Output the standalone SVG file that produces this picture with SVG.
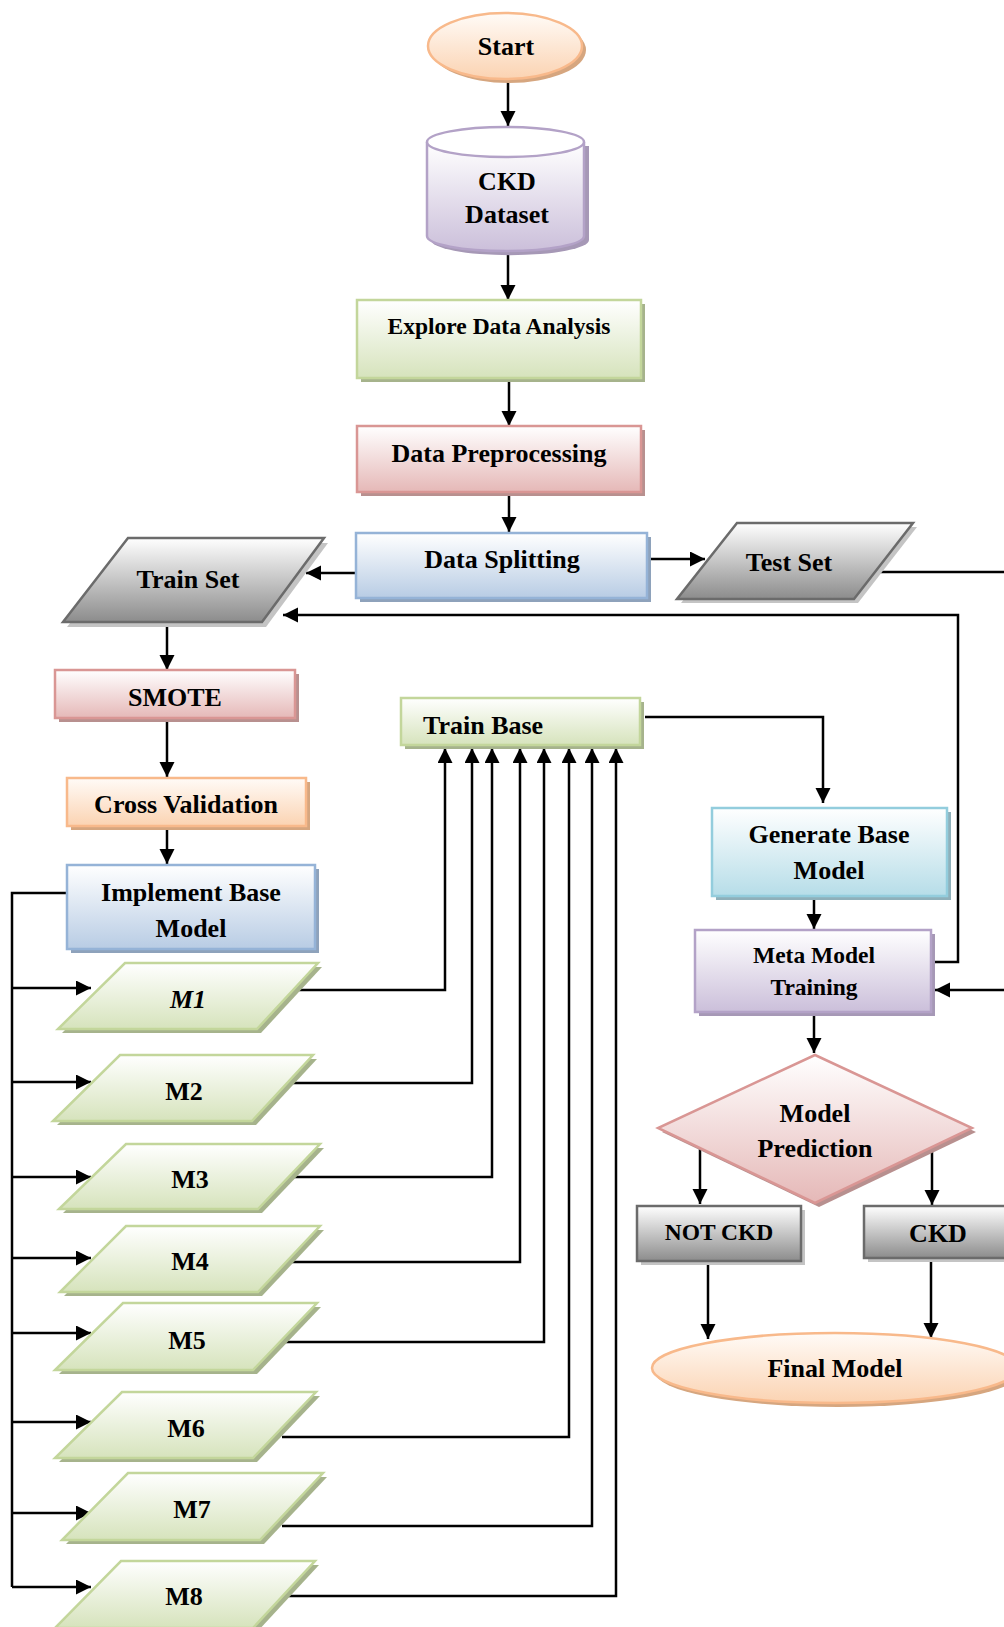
<svg xmlns="http://www.w3.org/2000/svg" xmlns:xlink="http://www.w3.org/1999/xlink" width="1004" height="1627" viewBox="0 0 1004 1627">
<defs>
<linearGradient id="gOrange" x1="0" y1="0" x2="0" y2="1"><stop offset="0" stop-color="#fffbf7"/><stop offset="1" stop-color="#fbd3b2"/></linearGradient>
<linearGradient id="gPurple" x1="0" y1="0" x2="0" y2="1"><stop offset="0" stop-color="#ffffff"/><stop offset="1" stop-color="#cbbfda"/></linearGradient>
<linearGradient id="gGreen" x1="0" y1="0" x2="0" y2="1"><stop offset="0" stop-color="#ffffff"/><stop offset="1" stop-color="#d6e3bc"/></linearGradient>
<linearGradient id="gRed" x1="0" y1="0" x2="0" y2="1"><stop offset="0" stop-color="#ffffff"/><stop offset="1" stop-color="#e5b8b7"/></linearGradient>
<linearGradient id="gBlue" x1="0" y1="0" x2="0" y2="1"><stop offset="0" stop-color="#ffffff"/><stop offset="1" stop-color="#b8cce4"/></linearGradient>
<linearGradient id="gCyan" x1="0" y1="0" x2="0" y2="1"><stop offset="0" stop-color="#ffffff"/><stop offset="1" stop-color="#b6dde8"/></linearGradient>
<linearGradient id="gGray" x1="0" y1="0" x2="0" y2="1"><stop offset="0" stop-color="#ffffff"/><stop offset="1" stop-color="#8c8c8c"/></linearGradient>
<marker id="arr" markerUnits="userSpaceOnUse" markerWidth="16" markerHeight="16" refX="15" refY="7.5" orient="auto"><path d="M0,0 L15,7.5 L0,15 z" fill="#000"/></marker>
<style>
.t{font-family:"Liberation Serif","Times New Roman",serif;font-weight:bold;font-size:26px;fill:#000;text-anchor:middle}
.s{font-size:23.5px}
.it{font-style:italic}
.c{fill:none;stroke:#000;stroke-width:2.5}
.a{marker-end:url(#arr)}
.sw{stroke-width:2.5}
.orange{fill:url(#gOrange);stroke:#f8b98b}
.purple{fill:url(#gPurple);stroke:#b3a2c7}
.green{fill:url(#gGreen);stroke:#c3d69b}
.red{fill:url(#gRed);stroke:#d99694}
.blue{fill:url(#gBlue);stroke:#95b3d7}
.cyan{fill:url(#gCyan);stroke:#93cddd}
.gray{fill:url(#gGray);stroke:#6b6b6b}
.shO{fill:#d6a67f}
.shP{fill:#a698b6}
.shG{fill:#a6b38c}
.shR{fill:#b8908f}
.shB{fill:#8ea2bb}
.shC{fill:#8fb0ba}
.shY{fill:#c4c4c4}
</style>
</defs>
<rect width="1004" height="1627" fill="#ffffff"/>

<g id="connectors">
<path class="c a" d="M508,80 V126"/>
<path class="c a" d="M508,253 V300"/>
<path class="c a" d="M509,378 V426"/>
<path class="c a" d="M509,492 V532"/>
<path class="c a" d="M356,573 H306"/>
<path class="c a" d="M647,559 H705"/>
<path class="c" d="M875,572 H1004"/>
<path class="c a" d="M931,962 H958 V615 H283"/>
<path class="c a" d="M167,622 V670"/>
<path class="c a" d="M167,718 V777"/>
<path class="c a" d="M167,826 V864"/>
<path class="c" d="M67,893 H12 V1587"/>
<path class="c a" d="M12,988 H91"/>
<path class="c a" d="M12,1082 H91"/>
<path class="c a" d="M12,1177 H91"/>
<path class="c a" d="M12,1258 H91"/>
<path class="c a" d="M12,1333 H91"/>
<path class="c a" d="M12,1422 H91"/>
<path class="c a" d="M12,1513 H91"/>
<path class="c a" d="M12,1587 H91"/>
<path class="c a" d="M293,990 H445 V748"/>
<path class="c a" d="M289,1083 H472 V748"/>
<path class="c a" d="M289,1177 H492 V748"/>
<path class="c a" d="M289,1262 H520 V748"/>
<path class="c a" d="M285,1342 H544 V748"/>
<path class="c a" d="M282,1437 H569 V748"/>
<path class="c a" d="M282,1526 H592 V748"/>
<path class="c a" d="M283,1596 H616 V748"/>
<path class="c a" d="M645,717 H823 V803"/>
<path class="c a" d="M814,896 V929"/>
<path class="c a" d="M1004,990 H935"/>
<path class="c a" d="M814,1012 V1053"/>
<path class="c a" d="M700,1148 V1204"/>
<path class="c a" d="M932,1148 V1205"/>
<path class="c a" d="M708,1261 V1339"/>
<path class="c a" d="M931,1258 V1338"/>
</g>

<g id="start">
<ellipse class="shO" cx="509" cy="50" rx="77" ry="33"/>
<ellipse class="orange sw" cx="505" cy="46" rx="77" ry="33"/>
<text class="t" x="506" y="55">Start</text>
</g>

<g id="ckd-dataset">
<path class="shP" d="M431,146 V240 A78,15 0 0 0 589,240 V146 Z"/>
<path class="purple sw" d="M427,142 V236 A78,15 0 0 0 584,236 V142"/>
<ellipse class="sw" cx="505.5" cy="142" rx="78.5" ry="15" fill="#ffffff" stroke="#b3a2c7"/>
<text class="t" x="507" y="190">CKD</text>
<text class="t" x="507" y="223">Dataset</text>
</g>

<g id="eda">
<rect class="shG" x="361" y="304" width="284" height="78"/>
<rect class="green sw" x="357" y="300" width="284" height="78"/>
<text class="t s" x="499" y="334">Explore Data Analysis</text>
</g>

<g id="preprocessing">
<rect class="shR" x="361" y="430" width="284" height="66"/>
<rect class="red sw" x="357" y="426" width="284" height="66"/>
<text class="t" x="499" y="462">Data Preprocessing</text>
</g>

<g id="splitting">
<rect class="shB" x="360" y="537" width="291" height="65"/>
<rect class="blue sw" x="356" y="533" width="291" height="65"/>
<text class="t" x="502" y="568">Data Splitting</text>
</g>

<g id="train-set">
<polygon class="shY" points="132,543 328,543 266,627 67,627"/>
<polygon class="gray sw" points="128,538 324,538 262,622 63,622"/>
<text class="t" x="188" y="588">Train Set</text>
</g>

<g id="test-set">
<polygon class="shY" points="741,527 917,527 858,603 681,603"/>
<polygon class="gray sw" points="737,523 913,523 854,599 677,599"/>
<text class="t" x="789" y="571">Test Set</text>
</g>

<g id="smote">
<rect class="shR" x="59" y="674" width="240" height="48"/>
<rect class="red sw" x="55" y="670" width="240" height="48"/>
<text class="t" x="175" y="706">SMOTE</text>
</g>

<g id="cross-validation">
<rect class="shO" x="71" y="782" width="239" height="48"/>
<rect class="orange sw" x="67" y="778" width="239" height="48"/>
<text class="t" x="186" y="813">Cross Validation</text>
</g>

<g id="implement-base-model">
<rect class="shB" x="71" y="869" width="248" height="84"/>
<rect class="blue sw" x="67" y="865" width="248" height="84"/>
<text class="t" x="191" y="901">Implement Base</text>
<text class="t" x="191" y="937">Model</text>
</g>

<g id="m1">
<polygon class="shG" points="129,967 322,967 261,1033 62,1033"/>
<polygon class="green sw" points="125,963 318,963 257,1029 58,1029"/>
<text class="t it" x="188" y="1008">M1</text>
</g>
<g id="m2">
<polygon class="shG" points="124,1059 317,1059 256,1125 57,1125"/>
<polygon class="green sw" points="120,1055 313,1055 252,1121 53,1121"/>
<text class="t" x="184" y="1100">M2</text>
</g>
<g id="m3">
<polygon class="shG" points="130,1148 324,1148 262,1213 63,1213"/>
<polygon class="green sw" points="126,1144 320,1144 258,1209 59,1209"/>
<text class="t" x="190" y="1188">M3</text>
</g>
<g id="m4">
<polygon class="shG" points="130,1230 324,1230 262,1296 64,1296"/>
<polygon class="green sw" points="126,1226 320,1226 258,1292 60,1292"/>
<text class="t" x="190" y="1270">M4</text>
</g>
<g id="m5">
<polygon class="shG" points="127,1307 321,1307 257,1374 59,1374"/>
<polygon class="green sw" points="123,1303 317,1303 253,1370 55,1370"/>
<text class="t" x="187" y="1349">M5</text>
</g>
<g id="m6">
<polygon class="shG" points="126,1396 320,1396 257,1462 59,1462"/>
<polygon class="green sw" points="122,1392 316,1392 253,1458 55,1458"/>
<text class="t" x="186" y="1437">M6</text>
</g>
<g id="m7">
<polygon class="shG" points="132,1477 327,1477 264,1544 66,1544"/>
<polygon class="green sw" points="128,1473 323,1473 260,1540 62,1540"/>
<text class="t" x="192" y="1518">M7</text>
</g>
<g id="m8">
<polygon class="shG" points="125,1565 319,1565 257,1632 59,1632"/>
<polygon class="green sw" points="121,1561 315,1561 253,1628 55,1628"/>
<text class="t" x="184" y="1605">M8</text>
</g>

<g id="train-base">
<rect class="shG" x="405" y="702" width="239" height="47"/>
<rect class="green sw" x="401" y="698" width="239" height="47"/>
<text class="t" x="423" y="734" text-anchor="start" style="text-anchor:start">Train Base</text>
</g>

<g id="generate-base-model">
<rect class="shC" x="716" y="812" width="235" height="88"/>
<rect class="cyan sw" x="712" y="808" width="235" height="88"/>
<text class="t" x="829" y="843">Generate Base</text>
<text class="t" x="829" y="879">Model</text>
</g>

<g id="meta-model-training">
<rect class="shP" x="699" y="934" width="236" height="82"/>
<rect class="purple sw" x="695" y="930" width="236" height="82"/>
<text class="t s" x="814" y="963">Meta Model</text>
<text class="t s" x="814" y="995">Training</text>
</g>

<g id="model-prediction">
<polygon class="shR" points="819,1059 976,1132 819,1207 662,1132"/>
<polygon class="red sw" points="815,1055 972,1128 815,1203 658,1128"/>
<text class="t" x="815" y="1122">Model</text>
<text class="t" x="815" y="1157">Prediction</text>
</g>

<g id="not-ckd">
<rect class="shY" x="641" y="1210" width="164" height="55"/>
<rect class="gray sw" x="637" y="1206" width="164" height="55"/>
<text class="t s" x="719" y="1240">NOT CKD</text>
</g>

<g id="ckd">
<rect class="shY" x="868" y="1210" width="160" height="52"/>
<rect class="gray sw" x="864" y="1206" width="160" height="52"/>
<text class="t" x="938" y="1242">CKD</text>
</g>

<g id="final-model">
<ellipse class="shO" cx="838" cy="1372" rx="183" ry="35"/>
<ellipse class="orange sw" cx="835" cy="1368" rx="183" ry="35"/>
<text class="t" x="835" y="1377">Final Model</text>
</g>
</svg>
